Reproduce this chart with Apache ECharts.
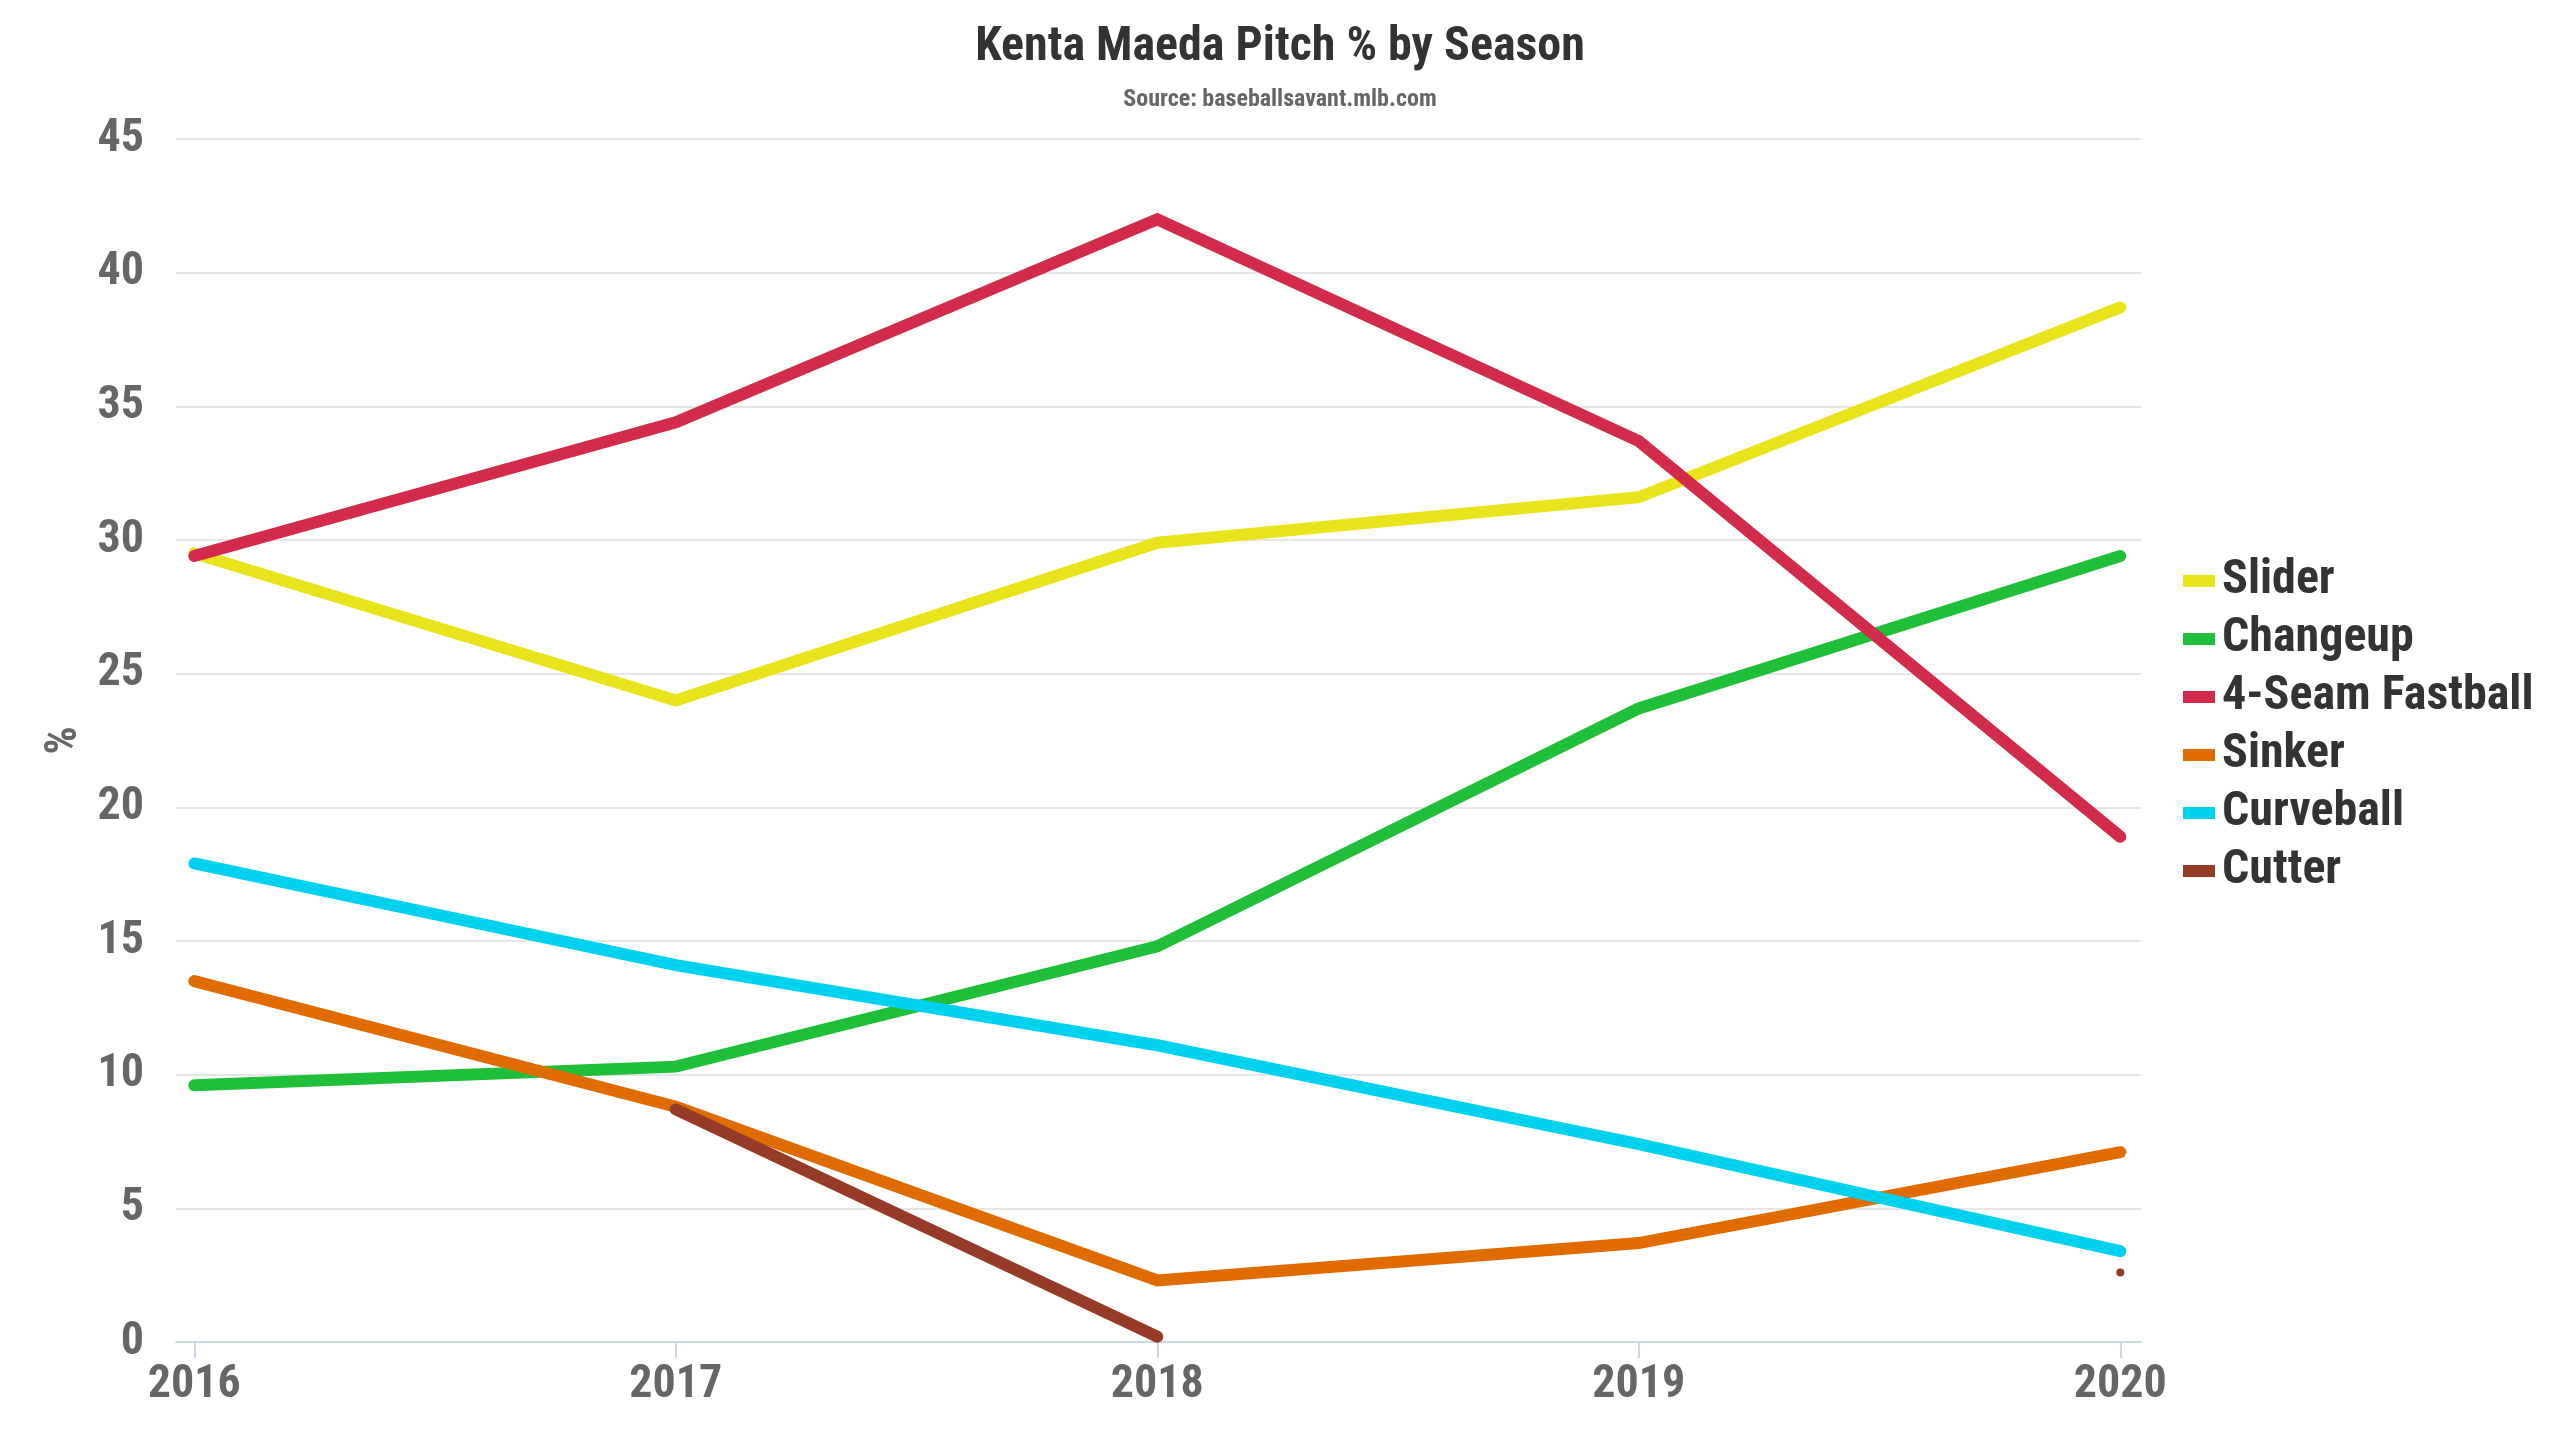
<!DOCTYPE html>
<html lang="en">
<head>
    <meta charset="utf-8">
    <script src="https://cdn.jsdelivr.net/npm/echarts@6/dist/echarts.min.js"></script>
    <style>
        html, body { margin: 0; padding: 0; background: #fff; }
        #chart { width: 2560px; height: 1440px; }
    </style>
</head>
<body>
<div id="chart"></div>

<script type="text/javascript">
    // seasons on the x axis
    var years = [2016, 2017, 2018, 2019, 2020];
    var yTicks = [0, 5, 10, 15, 20, 25, 30, 35, 40, 45];

    // pitch usage in %, per season
    var slider    = [29.5, 24.0, 29.9, 31.6, 38.7];
    var changeup  = [9.6, 10.3, 14.8, 23.7, 29.4];
    var fourSeam  = [29.4, 34.4, 42.0, 33.7, 18.9];
    var sinker    = [13.5, 8.8, 2.3, 3.7, 7.1];
    var curveball = [17.9, 14.1, 11.1, 7.4, 3.4];
    var cutter    = [null, 8.7, 0.2, null, 2.6];

    var names  = ['Slider', 'Changeup', '4-Seam Fastball', 'Sinker', 'Curveball', 'Cutter'];
    var values = [slider, changeup, fourSeam, sinker, curveball, cutter];
    var colors = ['#e9e31b', '#1fbf3a', '#d22b4b', '#e06c00', '#00d1ee', '#953b27'];

    var font = "'Roboto Condensed', 'Liberation Sans Narrow', 'DejaVu Sans Condensed', Roboto, sans-serif";

    function toPoints(arr) {
        return years.map(function (y, i) {
            var v = arr[i];
            if (v === null) return [y, '-'];
            var prev = i > 0 ? arr[i - 1] : null;
            var next = i < arr.length - 1 ? arr[i + 1] : null;
            // lone point with no neighbours: show it as a dot
            if (prev === null && next === null) {
                return { value: [y, v], symbol: 'circle', symbolSize: 8 };
            }
            return [y, v];
        });
    }

    var series = names.map(function (n, k) {
        return {
            name: n,
            type: 'line',
            data: toPoints(values[k]),
            symbol: 'none',
            showSymbol: true,
            connectNulls: false,
            color: colors[k],
            lineStyle: { width: 12, color: colors[k], cap: 'round', join: 'miter' },
            itemStyle: { color: colors[k] },
            emphasis: { disabled: true },
            animation: false
        };
    });

    var chart = echarts.init(document.getElementById('chart'));
    chart.setOption({
        backgroundColor: '#fff',
        title: {
            text: 'Kenta Maeda Pitch % by Season',
            subtext: 'Source: baseballsavant.mlb.com',
            left: 'center',
            top: 19,
            itemGap: 16,
            textStyle: { fontFamily: font, fontSize: 48, fontWeight: 'bold', color: '#333' },
            subtextStyle: { fontFamily: font, fontSize: 24, fontWeight: 'bold', color: '#666' }
        },
        legend: {
            orient: 'vertical',
            left: 2178,
            top: 552,
            itemWidth: 32,
            itemHeight: 12,
            itemGap: 10,
            icon: 'rect',
            data: names,
            textStyle: { fontFamily: font, fontSize: 48, fontWeight: 'bold', color: '#333', padding: [0, 0, 0, 2] }
        },
        grid: { left: 176, right: 419, top: 139, bottom: 98, containLabel: false },
        xAxis: {
            type: 'value',
            min: 2015.962,
            max: 2020.043,
            axisLine: { show: true, lineStyle: { color: '#ccd6eb', width: 2 } },
            axisTick: { show: true, customValues: years, length: 16, lineStyle: { color: '#ccd6eb', width: 2 } },
            axisLabel: {
                customValues: years,
                margin: 20,
                fontFamily: font,
                fontSize: 46,
                fontWeight: 'bold',
                color: '#666',
                formatter: function (v) { return String(v); }
            },
            splitLine: { show: false }
        },
        yAxis: {
            type: 'value',
            min: yTicks[0],
            max: yTicks[yTicks.length - 1],
            interval: 5,
            name: '%',
            nameLocation: 'middle',
            nameRotate: 90,
            nameGap: 88,
            nameTextStyle: { fontFamily: font, fontSize: 44, fontWeight: 'bold', color: '#666' },
            axisLine: { show: false },
            axisTick: { show: false },
            axisLabel: { margin: 32, fontFamily: font, fontSize: 46, fontWeight: 'bold', color: '#666' },
            splitLine: { lineStyle: { color: '#e6e6e6', width: 2 } }
        },
        series: series
    });
</script>
</body>
</html>
